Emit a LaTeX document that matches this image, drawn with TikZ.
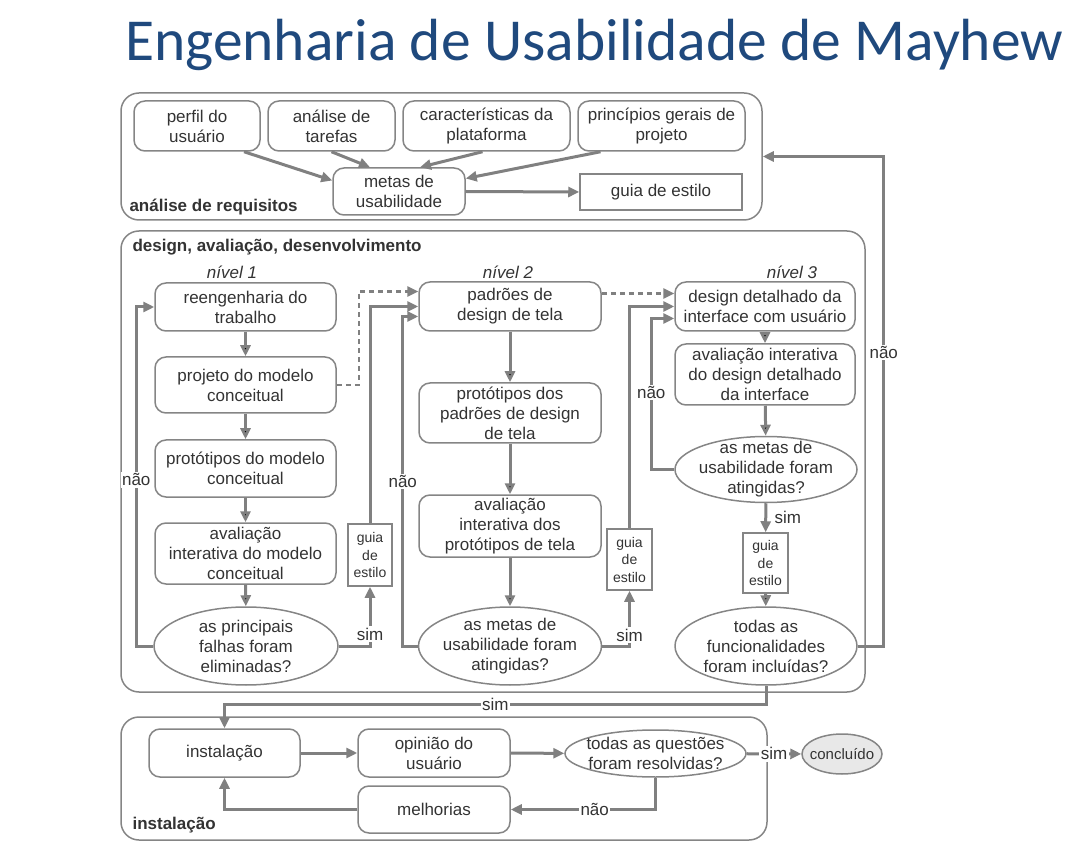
\documentclass[tikz,border=0pt]{standalone}
\usepackage{fontspec}
\setmainfont{Liberation Sans}
\newfontfamily\titlefont{Carlito}
\usetikzlibrary{arrows.meta,shapes.geometric,positioning}

\definecolor{linegray}{HTML}{808080}
\definecolor{boxgray}{HTML}{858585}
\definecolor{txtgray}{HTML}{333333}
\definecolor{titleblue}{HTML}{1F497D}
\definecolor{donegray}{HTML}{E8E8E8}

\tikzset{
  proc/.style={draw=boxgray, line width=1.5pt, rounded corners=11pt, align=center, inner sep=0pt},
  dec/.style={draw=boxgray, line width=1.5pt, ellipse, align=center, inner xsep=-6pt, inner ysep=-8pt},
  doc/.style={draw=boxgray, line width=1.5pt, align=center, inner sep=0pt},
  grp/.style={draw=boxgray, line width=1.5pt, rounded corners=18pt, inner sep=0pt},
  flow/.style={draw=linegray, line width=3pt, -{Triangle[length=11pt,width=10pt]}},
  dashflow/.style={flow, line width=2.5pt, dash pattern=on 5pt off 4pt},
  lbl/.style={fill=white, inner sep=1.5pt},
  small/.style={font=\fontsize{14}{17.5}\selectfont},
}

\begin{document}
\begin{tikzpicture}[x=1pt, y=-1pt, every node/.style={text=txtgray, font=\fontsize{17}{20}\selectfont}]
  \useasboundingbox (0,0) rectangle (1090,858);

  \node[anchor=base west, inner sep=0pt, text=titleblue, font=\titlefont\fontsize{59.5}{72}\selectfont] (title) at (125,61) {Engenharia de Usabilidade de Mayhew};

  % group boxes
  \node[grp, minimum width=641, minimum height=127] (req) at (441.5,156.5) {};
  \node[grp, minimum width=744, minimum height=461] (des) at (493,461.5) {};
  \node[grp, minimum width=646, minimum height=123] (ins) at (444,778.5) {};
  \node[anchor=west, font=\bfseries\fontsize{17}{20}\selectfont] (reqlbl) at (126,207) {análise de requisitos};
  \node[anchor=west, font=\bfseries\fontsize{17}{20}\selectfont] (deslbl) at (129,247) {design, avaliação, desenvolvimento};
  \node[anchor=west, font=\bfseries\fontsize{17}{20}\selectfont] (inslbl) at (129,825) {instalação};

  % requisitos
  \node[proc, minimum width=126, minimum height=50] (perfil) at (197,126) {perfil do\\usuário};
  \node[proc, minimum width=127, minimum height=50] (anal) at (331.5,126) {análise de\\tarefas};
  \node[proc, minimum width=167, minimum height=50] (carac) at (486.5,126) {características da\\plataforma};
  \node[proc, minimum width=167, minimum height=50] (princ) at (661.5,126) {princípios gerais de\\projeto};
  \node[proc, minimum width=132, minimum height=47] (metas) at (399,191.5) {metas de\\usabilidade};
  \node[doc, minimum width=162, minimum height=36] (guiaR) at (661,192) {guia de estilo};

  % niveis
  \node[font=\itshape\fontsize{17}{20}\selectfont] (niv1) at (232,272) {nível 1};
  \node[font=\itshape\fontsize{17}{20}\selectfont] (niv2) at (508,272) {nível 2};
  \node[font=\itshape\fontsize{17}{20}\selectfont] (niv3) at (792,272) {nível 3};

  % nivel 1
  \node[proc, minimum width=181, minimum height=48] (reeng) at (245.5,307) {reengenharia do\\trabalho};
  \node[proc, minimum width=181, minimum height=56] (proj) at (245.5,385) {projeto do modelo\\conceitual};
  \node[proc, minimum width=181, minimum height=57] (prot1) at (245.5,468.5) {protótipos do modelo\\conceitual};
  \node[proc, minimum width=181, minimum height=61] (aval1) at (245.5,553.5) {avaliação\\interativa do modelo\\conceitual};
  \node[dec, minimum width=184, minimum height=78] (ell1) at (246,646) {as principais\\falhas foram\\eliminadas?};
  \node[doc, small, minimum width=44, minimum height=62] (guia1) at (370,555) {guia\\de\\estilo};

  % nivel 2
  \node[proc, minimum width=182, minimum height=49] (pad) at (510,306.5) {padrões de\\design de tela};
  \node[proc, minimum width=182, minimum height=60] (prot2) at (510,413) {protótipos dos\\padrões de design\\de tela};
  \node[proc, minimum width=182, minimum height=62] (aval2) at (510,526) {avaliação\\interativa dos\\protótipos de tela};
  \node[dec, minimum width=183, minimum height=78] (ell2) at (510,646) {as metas de\\usabilidade foram\\atingidas?};
  \node[doc, small, minimum width=45, minimum height=61] (guia2) at (629.5,559.5) {guia\\de\\estilo};

  % nivel 3
  \node[proc, minimum width=180, minimum height=49] (dd) at (765,306.5) {design detalhado da\\interface com usuário};
  \node[proc, minimum width=180, minimum height=61] (av3) at (765,374.5) {avaliação interativa\\do design detalhado\\da interface};
  \node[dec, minimum width=182, minimum height=66] (ell3) at (766,469.5) {as metas de\\usabilidade foram\\atingidas?};
  \node[doc, small, minimum width=45, minimum height=60] (guia3) at (765.5,563) {guia\\de\\estilo};
  \node[dec, minimum width=182, minimum height=78] (ell4) at (766,646) {todas as\\funcionalidades\\foram incluídas?};

  % instalacao
  \node[proc, minimum width=151, minimum height=48] (inst) at (224.5,753) {instalação};
  \node[proc, minimum width=152, minimum height=48] (op) at (434,753) {opinião do\\usuário};
  \node[dec, minimum width=181, minimum height=47] (q) at (655.5,753.5) {todas as questões\\foram resolvidas?};
  \node[dec, fill=donegray, minimum width=80, minimum height=40, font=\fontsize{15}{18}\selectfont] (conc) at (842,754) {concluído};
  \node[proc, minimum width=152, minimum height=47] (mel) at (434,809.5) {melhorias};

  % connectors
  \draw[flow] ([xshift=47]perfil.south) -- ([yshift=11]metas.west);
  \draw[flow] (anal.south) -- ([xshift=-29]metas.north);
  \draw[flow] ([xshift=-4]carac.south) -- ([xshift=21]metas.north);
  \draw[flow] ([xshift=-61]princ.south) -- ([yshift=13]metas.east);
  \draw[flow] (metas.east) -- (guiaR.west);

  \path[flow]
    (reeng) edge (proj)
    (proj) edge (prot1)
    (prot1) edge (aval1)
    (aval1) edge (ell1)
    (pad) edge (prot2)
    (prot2) edge (aval2)
    (aval2) edge (ell2)
    (dd) edge (av3)
    (av3) edge (ell3)
    (guia3) edge (ell4);

  \draw[flow] (ell1.east) -| (guia1.south) node[lbl, pos=0.6] {sim};
  \draw[flow] (guia1.north) |- (pad.west);
  \draw[flow] (ell1.west) -- ++(-17,0) |- (reeng.west) node[lbl, pos=0.245] {não};
  \draw[dashflow] (proj.east) -- ++(22,0) |- ([yshift=15]pad.west);

  \draw[flow] (ell2.east) -| (guia2.south) node[lbl, pos=0.6] {sim};
  \draw[flow] (guia2.north) |- (dd.west);
  \draw[flow] (ell2.west) -- ++(-15,0) |- ([yshift=-10]pad.west) node[lbl, pos=0.25] {não};
  \draw[dashflow] ([yshift=13]pad.east) -- ([yshift=13]dd.west);

  \draw[flow] (ell3) -- (guia3) node[midway, anchor=west, xshift=4pt] {sim};
  \draw[flow] (ell3.west) -- ++(-23,0) |- ([yshift=-12]dd.west) node[lbl, pos=0.256] {não};
  \draw[flow] (ell4.east) -- ++(26,0) |- (req.east) node[lbl, pos=0.3] {não};
  \draw[flow] (ell4.south) -- ++(0,19) -| (inst.north) node[lbl, pos=0.25] {sim};

  \draw[flow] (inst) -- (op);
  \draw[flow] (op) -- (q);
  \draw[flow] (q) -- (conc) node[lbl, midway] {sim};
  \draw[flow] (q.south) |- (mel.east) node[lbl, pos=0.71] {não};
  \draw[flow] (mel.west) -| (inst.south);
\end{tikzpicture}
\end{document}
